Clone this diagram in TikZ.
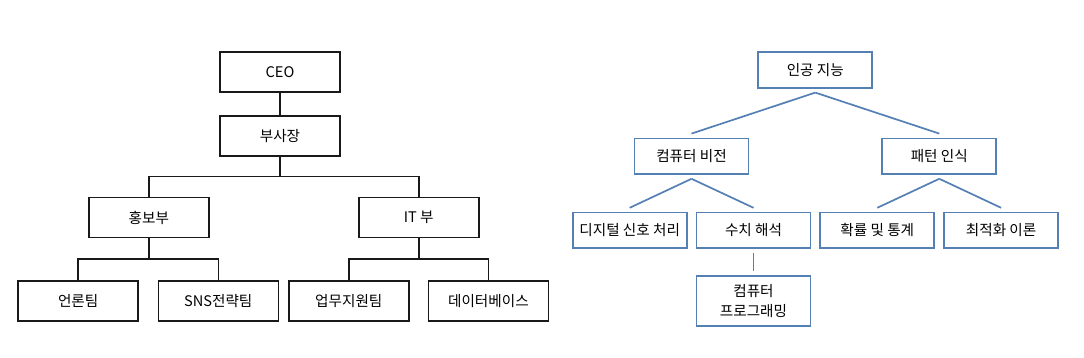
\documentclass[tikz,border=0pt]{standalone}
\usepackage{fontspec}
\setmainfont{Noto Sans CJK KR}
\usetikzlibrary{positioning}
\definecolor{aiblue}{RGB}{84,128,180}

\begin{document}
\begin{tikzpicture}[
    x=1pt, y=1pt,
    orgbox/.style={rectangle, draw=black!90, line width=1.6pt, minimum width=120pt, minimum height=40pt, inner sep=1pt, text centered, font=\fontsize{14.6}{18}\selectfont},
    aibox/.style={rectangle, draw=aiblue, line width=1.7pt, minimum width=114pt, minimum height=35.5pt, inner sep=1pt, align=center, font=\fontsize{14.6}{20}\selectfont},
    orgline/.style={draw=black!90, line width=1.6pt},
    ailine/.style={draw=aiblue, line width=1.7pt},
]
    \useasboundingbox[fill=white] (0,0) rectangle (1084,358);

    % left: company chart
    \node (ceo) [orgbox] at (280,285.7) {CEO};
    \node (vp) [orgbox, below=22pt of ceo] {부사장};
    \node (pr) [orgbox, below=40pt of vp, xshift=-131.2pt] {홍보부};
    \node (it) [orgbox, below=40pt of vp, xshift=138.8pt] {IT 부};
    \node (press) [orgbox, below=41.7pt of pr, xshift=-70.6pt] {언론팀};
    \node (sns) [orgbox, below=41.7pt of pr, xshift=69.5pt] {SNS전략팀};
    \node (support) [orgbox, below=41.7pt of it, xshift=-70pt] {업무지원팀};
    \node (db) [orgbox, below=41.7pt of it, xshift=69.6pt] {데이터베이스};

    \draw [orgline] (ceo) -- (vp);
    \draw [orgline] (vp.south) -- ++(0,-20) -| (pr.north);
    \draw [orgline] (vp.south) -- ++(0,-20) -| (it.north);
    \draw [orgline] (pr.south) -- ++(0,-21) -| (press.north);
    \draw [orgline] (pr.south) -- ++(0,-21) -| (sns.north);
    \draw [orgline] (it.south) -- ++(0,-21) -| (support.north);
    \draw [orgline] (it.south) -- ++(0,-21) -| (db.north);

    % right: AI fields
    \node (ai) [aibox] at (815.3,288) {인공 지능};
    \node (vision) [aibox, below=49pt of ai, xshift=-123.8pt] {컴퓨터 비전};
    \node (pattern) [aibox, below=49pt of ai, xshift=124pt] {패턴 인식};
    \node (dsp) [aibox, below=37pt of vision, xshift=-61.8pt] {디지털 신호 처리};
    \node (numeric) [aibox, below=37pt of vision, xshift=62pt] {수치 해석};
    \node (stats) [aibox, below=37pt of pattern, xshift=-62pt] {확률 및 통계};
    \node (optim) [aibox, below=37pt of pattern, xshift=61.8pt] {최적화 이론};
    \node (prog) [aibox, below=26.5pt of numeric, minimum height=50pt] {컴퓨터\\프로그래밍};

    \draw [ailine] ([yshift=-4pt]ai.south) -- ([yshift=4pt]vision.north);
    \draw [ailine] ([yshift=-4pt]ai.south) -- ([yshift=4pt]pattern.north);
    \draw [ailine] ([yshift=-4pt]vision.south) -- ([yshift=4pt]dsp.north);
    \draw [ailine] ([yshift=-4pt]vision.south) -- ([yshift=4pt]numeric.north);
    \draw [ailine] ([yshift=-4pt]pattern.south) -- ([yshift=4pt]stats.north);
    \draw [ailine] ([yshift=-4pt]pattern.south) -- ([yshift=4pt]optim.north);
    \draw [ailine] ([yshift=-4pt]numeric.south) -- ([yshift=4pt]prog.north);

\end{tikzpicture}
\end{document}
